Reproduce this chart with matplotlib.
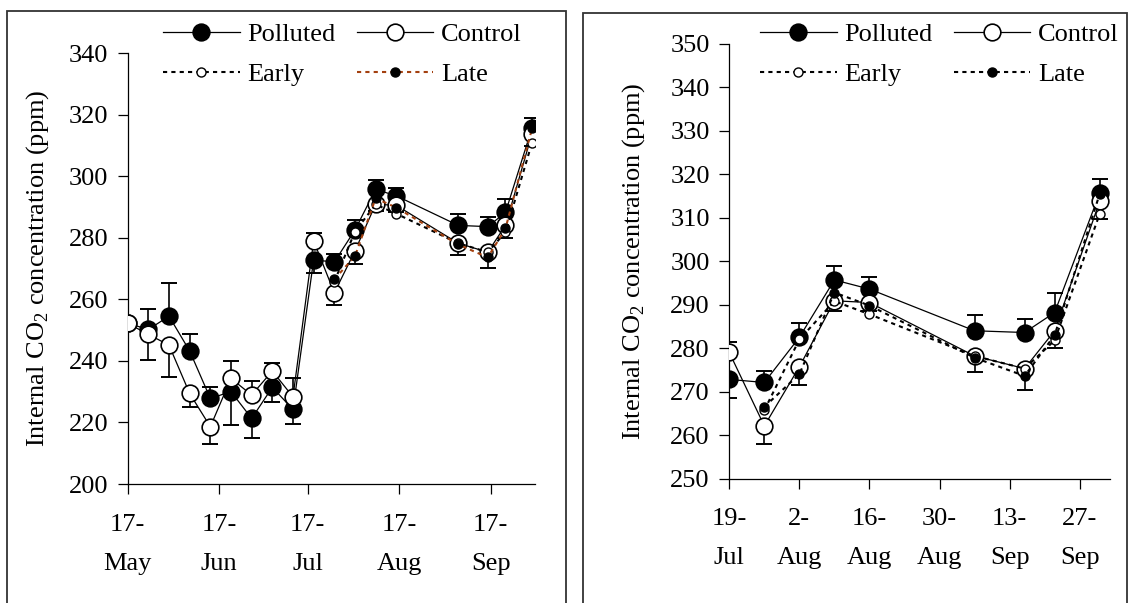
import datetime as dt
import numpy as np
import matplotlib
matplotlib.use('Agg')
import matplotlib.pyplot as plt
from matplotlib.patches import Rectangle

plt.rcParams['font.family'] = ['Liberation Serif', 'DejaVu Serif']
plt.rcParams['font.size'] = 19
plt.rcParams['mathtext.fontset'] = 'custom'
plt.rcParams['mathtext.rm'] = 'Liberation Serif'

# sampling dates (polluted / control measured weekly, then early / late added)
dates = ['05-17', '05-24', '05-31', '06-07', '06-14', '06-21', '06-28', '07-05', '07-12',
         '07-19', '07-26', '08-02', '08-09', '08-16', '09-06', '09-16', '09-22', '10-01']
polluted = [252.2, 250.2, 254.5, 243.2, 227.8, 230.0, 221.3, 231.4, 224.2,
            272.8, 272.1, 282.5, 295.7, 293.6, 284.0, 283.6, 288.2, 315.7]
control = [252.2, 248.6, 245.1, 229.4, 218.6, 234.3, 228.9, 236.7, 228.3,
           279.0, 262.1, 275.7, 290.9, 290.5, 278.2, 275.3, 284.0, 313.8]
polluted_se = [0, 6.5, 10.7, 5.5, 3.8, 10.8, 6.3, 4.7, 4.8,
               4.2, 2.7, 3.4, 3.1, 2.7, 3.7, 3.1, 4.4, 3.3]
control_se = [0, 8.3, 10.3, 4.3, 5.6, 5.7, 4.6, 2.7, 6.0,
              2.5, 4.1, 4.2, 2.3, 2.0, 3.8, 5.0, 4.0, 4.0]

el_dates = ['07-26', '08-02', '08-09', '08-16', '09-06', '09-16', '09-22', '10-01']
early = [265.7, 282.0, 290.8, 287.8, 278.2, 275.3, 281.8, 310.9]
late = [266.5, 274.0, 292.8, 289.8, 277.8, 273.6, 283.0, 315.5]

left_ticks = ['05-17', '06-17', '07-17', '08-17', '09-17']
left_ticklabels = ['17-\nMay', '17-\nJun', '17-\nJul', '17-\nAug', '17-\nSep']
right_ticks = ['07-19', '08-02', '08-16', '08-30', '09-13', '09-27']
right_ticklabels = ['19-\nJul', '2-\nAug', '16-\nAug', '30-\nAug', '13-\nSep', '27-\nSep']


def d(s):
    m, day = s.split('-')
    return dt.date(2002, int(m), int(day))


x = [d(s) for s in dates]
xe = [d(s) for s in el_dates]
P = np.array(polluted)
C = np.array(control)
Pse = np.array(polluted_se)
Cse = np.array(control_se)
# bars point away from the other treatment
p_up = P >= C
p_err = [np.where(p_up, 0, Pse), np.where(p_up, Pse, 0)]
c_err = [np.where(p_up, Cse, 0), np.where(p_up, 0, Cse)]

W, H = 1129, 603
fig = plt.figure(figsize=(W / 100, H / 100), dpi=100)


def px(x0, y0, x1, y1):
    return [x0 / W, 1 - y1 / H, (x1 - x0) / W, (y1 - y0) / H]


ax1 = fig.add_axes(px(127.7, 53, 535, 484))
ax2 = fig.add_axes(px(729.3, 44, 1109.7, 478.5))

big = 12
small = 6.5
dash = (0, (2, 2))


def draw(ax, late_color):
    ekw = dict(fmt='none', ecolor='black', elinewidth=1.2, capsize=6, capthick=1.4, zorder=2)
    ax.errorbar(x, P, yerr=p_err, **ekw)
    ax.errorbar(x, C, yerr=c_err, **ekw)
    hp, = ax.plot(x, P, '-', color='black', lw=0.9, marker='o', ms=big, mfc='black',
                  mec='black', mew=1.2, zorder=3, label='Polluted')
    hc, = ax.plot(x, C, '-', color='black', lw=0.9, marker='o', ms=big, mfc='white',
                  mec='black', mew=1.2, zorder=4, label='Control')
    he, = ax.plot(xe, early, linestyle=dash, color='black', lw=1.5, marker='o', ms=small,
                  mfc='white', mec='black', mew=1.0, zorder=5, label='Early')
    hl, = ax.plot(xe, late, linestyle=dash, color=late_color, lw=1.5, marker='o', ms=small,
                  mfc='black', mec='black', mew=1.0, zorder=6, label='Late')
    for s in ['top', 'right']:
        ax.spines[s].set_visible(False)
    for s in ['left', 'bottom']:
        ax.spines[s].set_linewidth(0.9)
    ax.tick_params(direction='out', length=7, width=0.9, pad=7)
    ax.tick_params(axis='x', pad=14.5)
    return [hp, he, hc, hl]


h1 = draw(ax1, '#a3400f')
ax1.set_xlim(d('05-17'), d('10-02'))
ax1.set_ylim(200, 340)
ax1.set_yticks(np.arange(200, 341, 20))
ax1.set_xticks([d(s) for s in left_ticks])
ax1.set_xticklabels(left_ticklabels, linespacing=2.0)

h2 = draw(ax2, 'black')
ax2.set_xlim(d('07-19'), d('10-03'))
ax2.set_ylim(250, 350)
ax2.set_yticks(np.arange(250, 351, 10))
ax2.set_xticks([d(s) for s in right_ticks])
ax2.set_xticklabels(right_ticklabels, linespacing=2.0)

leg_kw = dict(ncol=2, loc='upper left', frameon=False, borderpad=0, borderaxespad=0,
              handlelength=2.9, handletextpad=0.3, columnspacing=0.8, labelspacing=0.62,
              numpoints=1, bbox_transform=fig.transFigure)
leg1 = ax1.legend(h1, [h.get_label() for h in h1], bbox_to_anchor=(163 / W, 1 - 23 / H), **leg_kw)
leg2 = ax2.legend(h2, [h.get_label() for h in h2], bbox_to_anchor=(760 / W, 1 - 23 / H), **leg_kw)
for leg in (leg1, leg2):
    for h in leg.legend_handles:
        h.set_linewidth(0.9 if h.get_linestyle() == '-' else 1.5)

ylab = r'Internal CO$_\mathrm{2}$ concentration (ppm)'
fig.text(38 / W, 1 - 268.5 / H, ylab, rotation=90, ha='center', va='center')
fig.text(634 / W, 1 - 261 / H, ylab, rotation=90, ha='center', va='center')

# panel frames
fig.add_artist(Rectangle((7 / W, -0.1), (565.7 - 7) / W, 1.1 - 11 / H,
                         transform=fig.transFigure, fill=False, lw=1.3, color='#333333'))
fig.add_artist(Rectangle((583.3 / W, -0.1), (1127 - 583.3) / W, 1.1 - 12.7 / H,
                         transform=fig.transFigure, fill=False, lw=1.3, color='#333333'))

fig.savefig('out.png', dpi=100)
